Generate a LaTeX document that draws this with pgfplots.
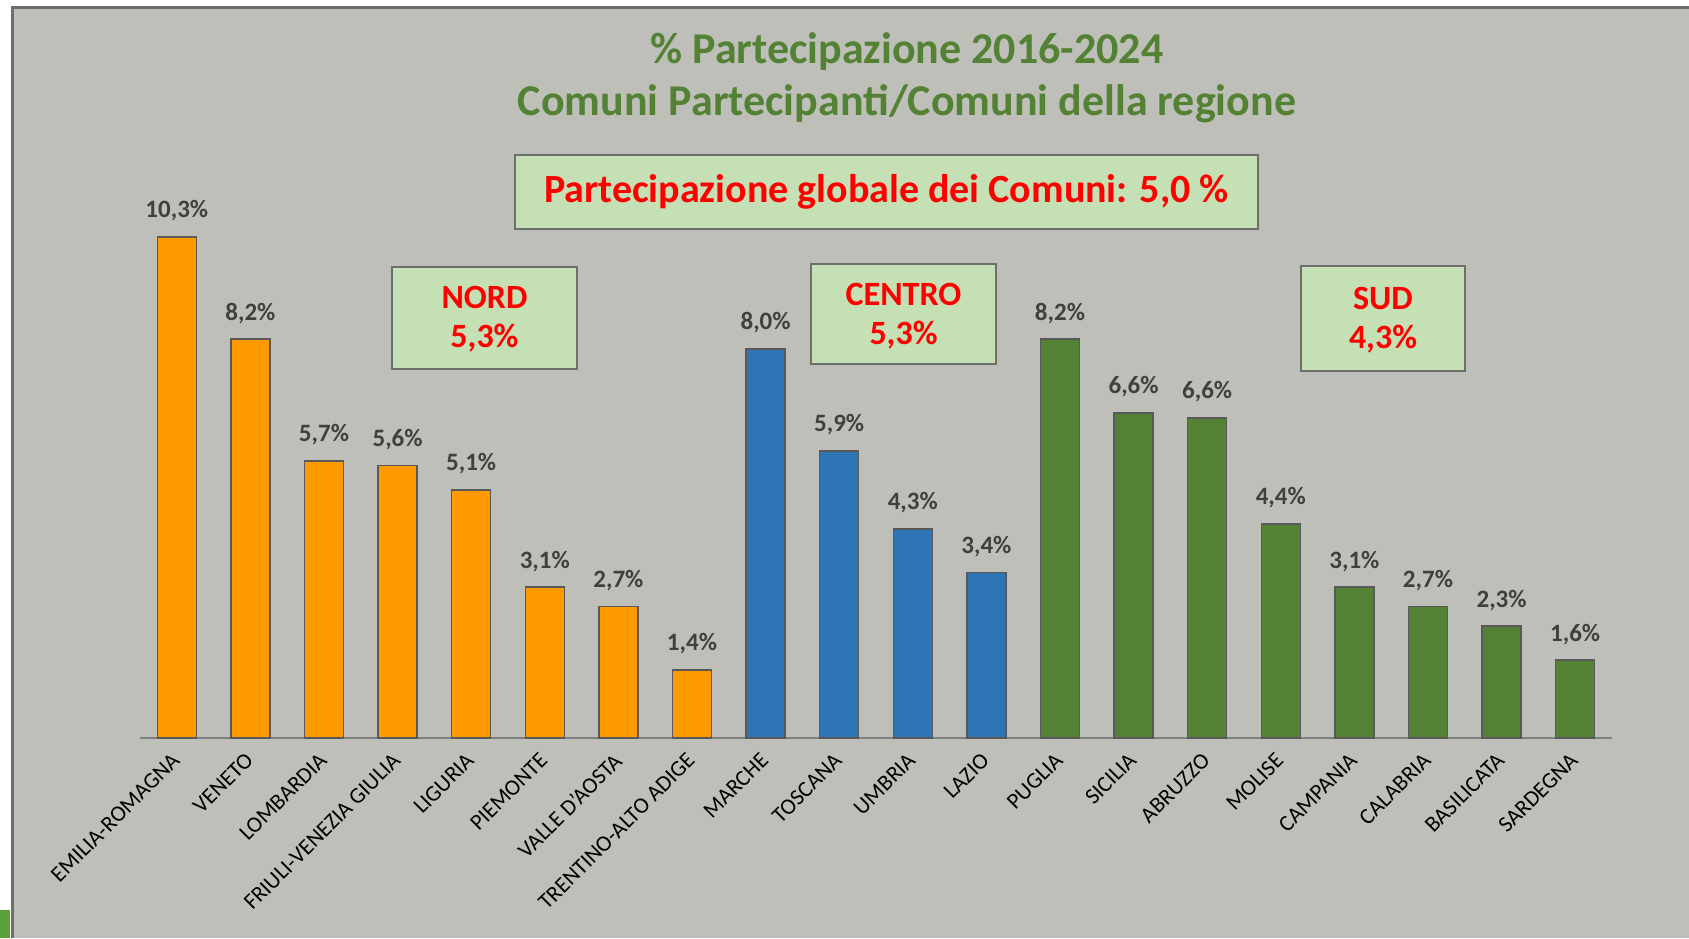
\documentclass[border=0pt]{standalone}
\usepackage{pgfplots}
\pgfplotsset{compat=1.18}
\usepackage{pgfplotstable}
\usepackage{fontspec}
\setmainfont{Carlito}

\definecolor{bgc}{HTML}{BEBFB9}
\definecolor{framec}{HTML}{6E6E6E}
\definecolor{cornerg}{HTML}{5AA33A}
\definecolor{titleg}{HTML}{548235}
\definecolor{boxg}{HTML}{C5E0B4}
\definecolor{orangebar}{HTML}{FF9900}
\definecolor{bluebar}{HTML}{2E75B6}
\definecolor{greenbar}{HTML}{548235}
\definecolor{labc}{HTML}{404040}

\pgfplotstableread{
x y lab
0 10.3 10,3
1 8.2 8,2
2 5.7 5,7
3 5.6 5,6
4 5.1 5,1
5 3.1 3,1
6 2.7 2,7
7 1.4 1,4
}\nord
\pgfplotstableread{
x y lab
8 8.0 8,0
9 5.9 5,9
10 4.3 4,3
11 3.4 3,4
}\centro
\pgfplotstableread{
x y lab
12 8.2 8,2
13 6.68 6,6
14 6.58 6,6
15 4.4 4,4
16 3.1 3,1
17 2.7 2,7
18 2.3 2,3
19 1.6 1,6
}\sud

\begin{document}
\begin{tikzpicture}[x=1pt,y=1pt]
\path[use as bounding box] (0pt,0pt) rectangle (1689pt,938pt);
\fill[white] (0pt,0pt) rectangle (1689pt,938pt);
\fill[bgc] (12pt,0pt) rectangle (1689pt,931pt);
\draw[framec, line width=3pt] (12.5pt,0pt) -- (12.5pt,930.5pt) -- (1689pt,930.5pt);
\fill[cornerg] (0pt,0pt) rectangle (10pt,28pt);

\node[text=titleg, font=\fontsize{44}{53}\selectfont\bfseries] at (907pt,886pt) {\% Partecipazione 2016-2024};
\node[text=titleg, font=\fontsize{44}{53}\selectfont\bfseries] at (907pt,834pt) {Comuni Partecipanti/Comuni della regione};

\begin{axis}[
  at={(140pt,200pt)}, anchor=south west,
  scale only axis, width=1472pt, height=583.6pt,
  xmin=-0.5, xmax=19.5, ymin=0, ymax=12,
  axis x line*=bottom, axis y line=none,
  x axis line style={draw=black!50, line width=2pt},
  xtick={0,...,19},
  xticklabels={EMILIA-ROMAGNA, VENETO, LOMBARDIA, FRIULI-VENEZIA GIULIA, LIGURIA, PIEMONTE, VALLE D'AOSTA, TRENTINO-ALTO ADIGE, MARCHE, TOSCANA, UMBRIA, LAZIO, PUGLIA, SICILIA, ABRUZZO, MOLISE, CAMPANIA, CALABRIA, BASILICATA, SARDEGNA},
  major tick length=0pt,
  xticklabel style={font=\fontsize{22.5}{22.5}\selectfont, rotate=45, anchor=north east, inner sep=0pt, xshift=-14pt, yshift=-5pt},
  ybar, bar width=0.53,
  nodes near coords={\pgfplotspointmeta\%},
  point meta=explicit symbolic,
  every node near coord/.append style={font=\fontsize{25}{25}\selectfont\bfseries, text=labc, inner sep=0pt, anchor=south, yshift=15pt},
  clip=false,
]
\addplot[bar shift=0pt, fill=orangebar, draw=black!65, line width=1.5pt] table[x=x, y=y, meta=lab]{\nord};
\addplot[bar shift=0pt, fill=bluebar, draw=black!65, line width=1.5pt] table[x=x, y=y, meta=lab]{\centro};
\addplot[bar shift=0pt, fill=greenbar, draw=black!65, line width=1.5pt] table[x=x, y=y, meta=lab]{\sud};
\end{axis}

\node[draw=framec, line width=2pt, fill=boxg, minimum width=743pt, minimum height=74pt, inner sep=0pt] at (886.5pt,746pt) {};
\node[text=red, font=\fontsize{40}{48}\selectfont\bfseries] at (886.5pt,746pt) {Partecipazione globale dei Comuni: 5,0 \%};

\node[draw=framec, line width=2pt, fill=boxg, minimum width=185pt, minimum height=102pt, inner sep=0pt] at (484.5pt,620pt) {};
\node[text=red, font=\fontsize{34}{40}\selectfont\bfseries] at (484.5pt,641pt) {NORD};
\node[text=red, font=\fontsize{34}{40}\selectfont\bfseries] at (484.5pt,600pt) {5,3\%};

\node[draw=framec, line width=2pt, fill=boxg, minimum width=185pt, minimum height=100pt, inner sep=0pt] at (903.5pt,624pt) {};
\node[text=red, font=\fontsize{34}{40}\selectfont\bfseries] at (903.5pt,644pt) {CENTRO};
\node[text=red, font=\fontsize{34}{40}\selectfont\bfseries] at (903.5pt,603pt) {5,3\%};

\node[draw=framec, line width=2pt, fill=boxg, minimum width=164pt, minimum height=105pt, inner sep=0pt] at (1383pt,619.5pt) {};
\node[text=red, font=\fontsize{34}{40}\selectfont\bfseries] at (1383pt,640pt) {SUD};
\node[text=red, font=\fontsize{34}{40}\selectfont\bfseries] at (1383pt,599pt) {4,3\%};
\end{tikzpicture}
\end{document}
